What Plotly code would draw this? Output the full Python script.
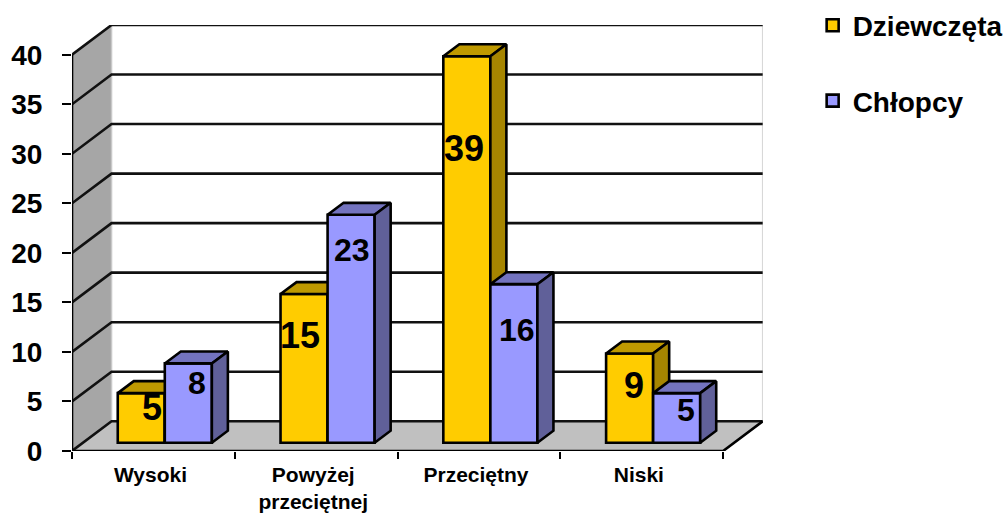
import plotly.graph_objects as go

categories = ["Wysoki", "Powyżej<br>przeciętnej", "Przeciętny", "Niski"]
girls = [5, 15, 39, 9]
boys = [8, 23, 16, 5]
y_ticks = [0, 5, 10, 15, 20, 25, 30, 35, 40]
series_names = ["Dziewczęta", "Chłopcy"]

# label nudges in pixels (style only)
GIRL_DX = [11, -4, -3, 4]
GIRL_DY = [-14, -41, -92, -32]
BOY_DX = [9, 1, 3, 9]
BOY_DY = [-20, -35, -46, -17]

PX_X = 162.6
PX_Y = 9.93
WALL_DX = 39.5 / PX_X
WALL_DY = 3.0
BAR_X0 = 45.7 / PX_X
BAR_W = 47.0 / PX_X
BAR_BASE = 0.84
BAR_DX = 16 / PX_X
BAR_DY = 1.21
XMAX = 4 + WALL_DX + 0.002
YMAX = 43.0
LW = 2.6

fig = go.Figure()


def poly(xs, ys, fill, xa="x", ya="y", line="black", width=LW):
    fig.add_trace(go.Scatter(x=xs, y=ys, mode="lines", fill="toself", fillcolor=fill,
                             line=dict(color=line, width=width), xaxis=xa, yaxis=ya,
                             hoverinfo="skip", showlegend=False, cliponaxis=False))


def line(xs, ys, color="black", width=LW):
    fig.add_trace(go.Scatter(x=xs, y=ys, mode="lines", line=dict(color=color, width=width),
                             hoverinfo="skip", showlegend=False, cliponaxis=False))


# walls and floor
poly([0, WALL_DX, WALL_DX, 0, 0], [0, WALL_DY, y_ticks[-1] + WALL_DY, y_ticks[-1], 0], "#A6A6A6", line="rgba(0,0,0,0)", width=0)
poly([0, 4, 4 + WALL_DX, WALL_DX, 0], [0, 0, WALL_DY, WALL_DY, 0], "#C0C0C0", line="rgba(0,0,0,0)", width=0)
line([WALL_DX, WALL_DX], [WALL_DY, y_ticks[-1] + WALL_DY], "#C8C8C8", 1.5)
line([4 + WALL_DX, 4 + WALL_DX], [WALL_DY, y_ticks[-1] + WALL_DY], "#D8D8D8", 1.5)
for t in y_ticks:
    line([0, WALL_DX, 4 + WALL_DX], [t, t + WALL_DY, t + WALL_DY], "#111111", LW)
line([0, 0], [y_ticks[0], y_ticks[-1]])
line([0, 4, 4 + WALL_DX], [0, 0, WALL_DY])


def bars(values, offset, color, top, side, name, idx):
    xa, ya = f"x{idx}", f"y{idx}"
    fig.add_trace(go.Bar(x=[i + BAR_X0 + offset + BAR_W / 2 for i in range(len(values))],
                         y=values, base=BAR_BASE, width=BAR_W, name=name,
                         marker=dict(color=color, line=dict(color="black", width=LW)),
                         legendgroup=name, xaxis=xa, yaxis=ya, hoverinfo="skip"))
    for i, v in enumerate(values):
        x0 = i + BAR_X0 + offset
        x1 = x0 + BAR_W
        t = BAR_BASE + v
        poly([x0, x1, x1 + BAR_DX, x0 + BAR_DX, x0], [t, t, t + BAR_DY, t + BAR_DY, t], top, xa, ya)
        poly([x1, x1 + BAR_DX, x1 + BAR_DX, x1, x1],
             [BAR_BASE, BAR_BASE + BAR_DY, t + BAR_DY, t, BAR_BASE], side, xa, ya)


bars(girls, 0, "#FFCC00", "#BF9900", "#A68500", series_names[0], 2)
bars(boys, BAR_W, "#9999FF", "#7373BF", "#606099", series_names[1], 3)

annotations = []
for i, v in enumerate(girls):
    annotations.append(dict(x=i + BAR_X0 + BAR_W / 2, y=BAR_BASE + v, xref="x3", yref="y3", text=f"<b>{v}</b>",
                            showarrow=False, xshift=GIRL_DX[i], yshift=GIRL_DY[i],
                            font=dict(size=36, color="black", family="Liberation Sans"),
                            yanchor="middle"))
for i, v in enumerate(boys):
    annotations.append(dict(x=i + BAR_X0 + 1.5 * BAR_W, y=BAR_BASE + v, xref="x3", yref="y3", text=f"<b>{v}</b>",
                            showarrow=False, xshift=BOY_DX[i], yshift=BOY_DY[i],
                            font=dict(size=32, color="black", family="Liberation Sans"),
                            yanchor="middle"))

hidden = dict(visible=False, fixedrange=True)
fig.update_layout(
    width=1007, height=513, autosize=False,
    margin=dict(l=72, r=244, t=24.5, b=61.5, pad=0, autoexpand=False),
    paper_bgcolor="white", plot_bgcolor="white", barmode="overlay",
    font=dict(family="Liberation Sans", color="black"),
    xaxis=dict(range=[0, XMAX], tickvals=[0, 1, 2, 3, 4], ticktext=["", "", "", "", ""], ticks="outside",
               ticklen=7, tickwidth=1.5, tickcolor="black", showgrid=False, zeroline=False, showline=False,
               automargin=False),
    yaxis=dict(range=[0, YMAX], tickvals=y_ticks, ticks="outside", ticklen=9, tickwidth=1.5, tickcolor="black",
               showgrid=False, zeroline=False, showline=False, ticklabelstandoff=14, automargin=False,
               tickfont=dict(size=28, family="Liberation Sans", weight="bold")),
    xaxis2=dict(range=[0, XMAX], overlaying="x", anchor="y2", tickvals=[i + 0.482 for i in range(4)],
                ticktext=categories, ticks="", showgrid=False, zeroline=False, showline=False,
                ticklabelstandoff=9, automargin=False,
                tickfont=dict(size=21, family="Liberation Sans", weight="bold")),
    yaxis2=dict(range=[0, YMAX], overlaying="y", anchor="x2", **hidden),
    xaxis3=dict(range=[0, XMAX], overlaying="x", anchor="y3", **hidden),
    yaxis3=dict(range=[0, YMAX], overlaying="y", anchor="x3", **hidden),
    legend=dict(x=0.807, xref="container", xanchor="left", y=0.999, yref="container", yanchor="top",
                tracegroupgap=36, bgcolor="rgba(0,0,0,0)",
                font=dict(size=28, family="Liberation Sans", weight="bold"), itemclick=False, itemdoubleclick=False),
    annotations=annotations,
)
fig.write_html("out.html", post_script="document.body.style.margin='0';document.body.style.overflow='hidden';",
               config=dict(displayModeBar=False))
